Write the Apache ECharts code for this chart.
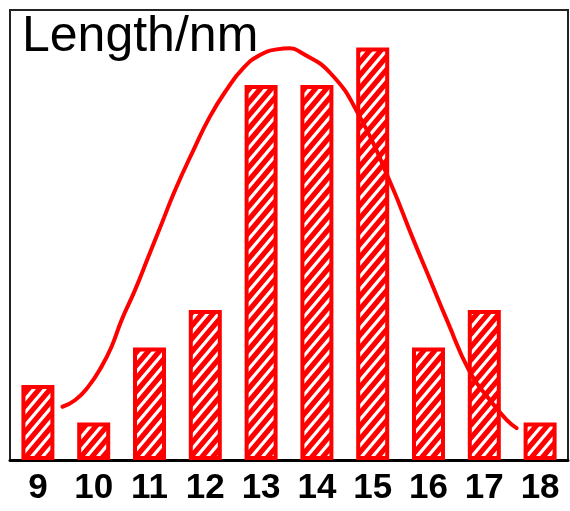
<!DOCTYPE html>
<html><head><meta charset="utf-8">
<script src="https://cdn.jsdelivr.net/npm/echarts@6/dist/echarts.min.js"></script>
<style>html,body{margin:0;padding:0;background:#fff}#c{width:570px;height:511px}</style>
</head><body><div id="c"></div>
<script>
const categories = ['9','10','11','12','13','14','15','16','17','18'];
const counts = [2, 1, 3, 4, 10, 10, 11, 3, 4, 1];
const fitX = [9.44, 9.67, 9.90, 10.14, 10.32, 10.50, 10.74, 10.98, 11.22, 11.46, 11.79, 12.08, 12.38, 12.68, 12.98, 13.28, 13.52, 13.70, 14.24, 14.77, 15.31, 15.73, 16.03, 16.33, 16.74, 17.10, 17.40, 17.58];
const fitY = [1.42, 1.60, 1.95, 2.49, 3.02, 3.73, 4.53, 5.42, 6.31, 7.20, 8.27, 9.15, 9.87, 10.45, 10.80, 10.95, 10.98, 10.88, 10.32, 9.15, 7.42, 5.87, 4.80, 3.73, 2.35, 1.60, 1.07, 0.85];
const titleText = 'Length/nm';

function hatch() {
  const w = 11, h = 13;
  const cv = document.createElement('canvas');
  cv.width = w; cv.height = h;
  const g = cv.getContext('2d');
  g.fillStyle = '#ff0000';
  g.fillRect(0, 0, w, h);
  g.strokeStyle = '#ffffff';
  g.lineWidth = 3.2;
  g.beginPath();
  for (let k = -2; k <= 2; k++) {
    g.moveTo(k * w - w, 2 * h);
    g.lineTo(k * w + 2 * w, -h);
  }
  g.stroke();
  return cv;
}

const chart = echarts.init(document.getElementById('c'), null, {renderer: 'canvas'});
chart.setOption({
  animation: false,
  backgroundColor: '#fff',
  title: {
    text: titleText, left: 17, top: 7,
    textStyle: {fontFamily: 'Liberation Sans, Arial', fontSize: 50, fontWeight: 'normal', color: '#000'}
  },
  grid: {left: 10, right: 2, top: 10, bottom: 51, show: true, borderColor: '#222', borderWidth: 2, backgroundColor: 'transparent'},
  xAxis: [{
    type: 'category', data: categories, boundaryGap: true,
    axisLine: {lineStyle: {color: '#000', width: 3}},
    axisTick: {show: false},
    axisLabel: {fontFamily: 'Liberation Sans, Arial', fontWeight: 'bold', fontSize: 35, color: '#000', margin: 11, interval: 0},
    splitLine: {show: false}
  }, {
    type: 'value', min: 8.5, max: 18.5, show: false
  }],
  yAxis: {type: 'value', min: 0, max: 12, show: false, splitLine: {show: false}},
  series: [{
    type: 'bar', data: counts, barWidth: 33, xAxisIndex: 0,
    itemStyle: {color: {image: hatch(), repeat: 'repeat'}, borderColor: '#ff0000', borderWidth: 4}
  }, {
    type: 'line', xAxisIndex: 1, smooth: 0.5, showSymbol: false, symbol: 'none',
    data: fitX.map((x, i) => [x, fitY[i]]),
    lineStyle: {color: '#ff0000', width: 4, cap: 'round'}, z: 5
  }]
});
</script></body></html>
